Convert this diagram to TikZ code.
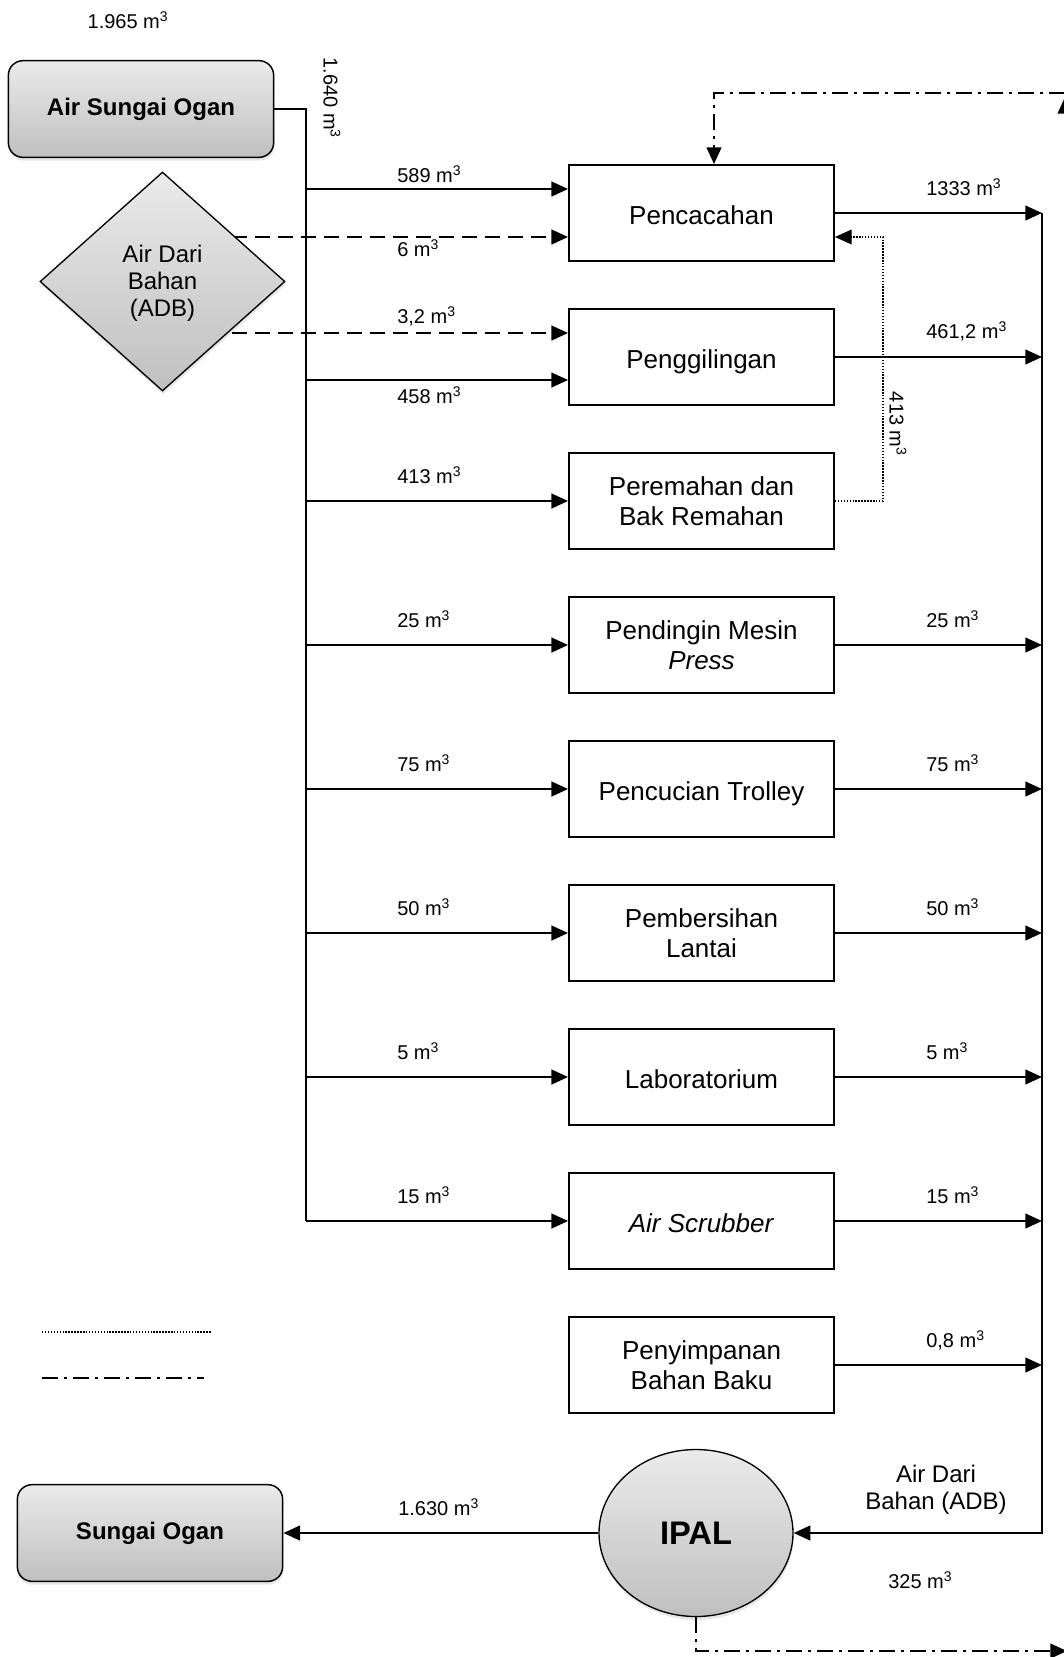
\documentclass[tikz,border=0pt]{standalone}
\usepackage{fontspec}
\setmainfont{Liberation Sans}
\usetikzlibrary{arrows.meta,shapes.geometric,shadows,calc}
\pgfdeclarelayer{bg}
\pgfsetlayers{bg,main}

\begin{document}
\begin{tikzpicture}[x=0.75pt,y=-0.75pt,
  flow/.style={line width=1.7pt},
  tip/.style={-{Triangle[length=12.5pt,width=11pt]}},
  arr/.style={flow,tip},
  adbflow/.style={arr,dash pattern=on 11.25pt off 6pt},
  recyc/.style={line width=1.6pt,dash pattern=on 12pt off 4.5pt on 2.25pt off 4.5pt},
  retflow/.style={line width=1.1pt,dash pattern=on 1.1pt off 1.1pt},
  shade/.style={top color=gray!16,bottom color=gray!50,
    drop shadow={opacity=0.2,shadow xshift=0.5pt,shadow yshift=-2.5pt}},
  proc/.style={draw,line width=1.4pt,minimum width=198.75pt,minimum height=72pt,
    inner sep=0pt,align=center,font=\fontsize{19.5}{22.5}\selectfont},
  oneline/.style={text height=17.5pt,text depth=0pt},
  river/.style={draw,line width=1.1pt,rounded corners=11pt,minimum width=199pt,
    minimum height=72.5pt,shade,font=\fontsize{18}{21}\selectfont\bfseries},
  qty/.style={anchor=base west,inner sep=0pt,font=\fontsize{15}{18}\selectfont},
]
\useasboundingbox (0,0) rectangle (1064,1657);
\clip (0,0) rectangle (1064,1657);

% sources and sinks
\node[river] (src) at (141,109) {Air Sungai Ogan};
\node[diamond,draw,line width=1pt,minimum width=183.75pt,minimum height=164.25pt,
  inner sep=0pt,shade,align=center,font=\fontsize{18}{20.25}\selectfont]
  (adb) at (162.5,281.5) {\rule{0pt}{15pt}Air Dari\\Bahan\\(ADB)};
\node[river] (sink) at (150,1533) {Sungai Ogan};
\node[ellipse,draw,line width=1pt,minimum width=145.5pt,minimum height=125.25pt,
  inner sep=0pt,shade,font=\fontsize{24.5}{27}\selectfont\bfseries]
  (ipal) at (696,1533) {IPAL};

% process units
\node[proc,oneline] (b0) at (701.5,213) {Pencacahan};
\node[proc,oneline] (b1) at (701.5,357) {Penggilingan};
\node[proc] (b2) at (701.5,501) {Peremahan dan\\Bak Remahan};
\node[proc] (b3) at (701.5,645) {Pendingin Mesin\\\textit{Press}};
\node[proc,oneline] (b4) at (701.5,789) {Pencucian Trolley};
\node[proc] (b5) at (701.5,933) {Pembersihan\\Lantai};
\node[proc,oneline] (b6) at (701.5,1077) {Laboratorium};
\node[proc,oneline] (b7) at (701.5,1221) {\textit{Air Scrubber}};
\node[proc] (b8) at (701.5,1365) {Penyimpanan\\Bahan Baku};

% helper points
\coordinate (busend) at (306,1221);
\coordinate (rbus) at (1042,1533);
\coordinate (b0in1) at ($(b0.west)+(0,-24)$);
\coordinate (b0in2) at ($(b0.west)+(0,24)$);
\coordinate (b1in1) at ($(b1.west)+(0,-24)$);
\coordinate (b1in2) at ($(b1.west)+(0,23)$);
\coordinate (b0ret) at ($(b0.east)+(0,24)$);
\coordinate (b0top) at ($(b0.north)+(12.5,0)$);
\coordinate (rcyc) at (1065,93);
\coordinate (rcycup) at (1065,150);
\coordinate (outfall) at (1067,1651);

% river water supply bus
\draw[flow] (src.east) -| (busend);
\draw[arr] (busend |- b0in1) -- (b0in1);
\draw[arr] (busend |- b1in2) -- (b1in2);
\draw[arr] (busend |- b2.west) -- (b2.west);
\draw[arr] (busend |- b3.west) -- (b3.west);
\draw[arr] (busend |- b4.west) -- (b4.west);
\draw[arr] (busend |- b5.west) -- (b5.west);
\draw[arr] (busend |- b6.west) -- (b6.west);
\draw[arr] (busend) -- (b7.west);

% water carried in with the raw material
\begin{pgfonlayer}{bg}
\draw[adbflow] (adb.center |- b0in2) -- (b0in2);
\draw[adbflow] (adb.center |- b1in1) -- (b1in1);
\end{pgfonlayer}

% outflows to the collector
\draw[arr] (b0.east) -- (b0.east -| rbus);
\draw[arr] (b1.east) -- (b1.east -| rbus);
\draw[arr] (b3.east) -- (b3.east -| rbus);
\draw[arr] (b4.east) -- (b4.east -| rbus);
\draw[arr] (b5.east) -- (b5.east -| rbus);
\draw[arr] (b6.east) -- (b6.east -| rbus);
\draw[arr] (b7.east) -- (b7.east -| rbus);
\draw[arr] (b8.east) -- (b8.east -| rbus);
\draw[arr] (b0.east -| rbus) -- (rbus) -- (ipal.east);
\draw[arr] (ipal.west) -- (sink.east);

% return from the crumb basin
\draw[retflow,tip] (b2.east) -- ++(48,0) |- (b0ret);

% recycled water
\draw[recyc,tip] (rcyc) -| (b0top);
\draw[recyc,tip] (rcycup) -- ($(rcyc)+(0,4)$);
\draw[recyc,tip] (ipal.south) |- (outfall);

% line-style key
\draw[retflow] (42,1332) -- (211,1332);
\draw[recyc] (42,1378) -- (204,1378);

% quantities
\node[qty,anchor=center] at (128,20) {1.965 m\textsuperscript{3}};
\node[qty,anchor=center,rotate=-90] at (332,98) {1.640 m\textsuperscript{3}};
\node[qty] at (397,182) {589 m\textsuperscript{3}};
\node[qty] at (397,256) {6 m\textsuperscript{3}};
\node[qty] at (397,323) {3,2 m\textsuperscript{3}};
\node[qty] at (397,403) {458 m\textsuperscript{3}};
\node[qty] at (397,483) {413 m\textsuperscript{3}};
\node[qty] at (397,627) {25 m\textsuperscript{3}};
\node[qty] at (397,771) {75 m\textsuperscript{3}};
\node[qty] at (397,915) {50 m\textsuperscript{3}};
\node[qty] at (397,1059) {5 m\textsuperscript{3}};
\node[qty] at (397,1203) {15 m\textsuperscript{3}};
\node[qty] at (926,195) {1333 m\textsuperscript{3}};
\node[qty] at (926,338) {461,2 m\textsuperscript{3}};
\node[qty] at (926,627) {25 m\textsuperscript{3}};
\node[qty] at (926,771) {75 m\textsuperscript{3}};
\node[qty] at (926,915) {50 m\textsuperscript{3}};
\node[qty] at (926,1059) {5 m\textsuperscript{3}};
\node[qty] at (926,1203) {15 m\textsuperscript{3}};
\node[qty] at (926,1347) {0,8 m\textsuperscript{3}};
\node[qty,anchor=center,rotate=-90] at (898,424) {413 m\textsuperscript{3}};
\node[qty] at (398,1515) {1.630 m\textsuperscript{3}};
\node[qty] at (888,1588) {325 m\textsuperscript{3}};
\node[align=center,inner sep=0pt,font=\fontsize{18}{20.25}\selectfont] at (936,1490) {Air Dari\\Bahan (ADB)};
\end{tikzpicture}
\end{document}
